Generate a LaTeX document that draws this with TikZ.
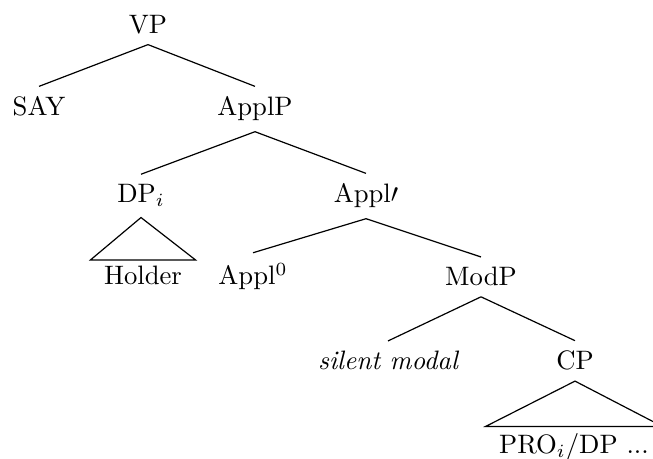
\documentclass[tikz,border=0pt]{standalone}
\begin{document}
\begin{tikzpicture}[x=0.375pt,y=-0.375pt,
  lbl/.style={anchor=base,inner xsep=4.9pt,inner ysep=3.75pt},
  leaf/.style={anchor=base,inner xsep=4.9pt,inner ysep=2.25pt},
  branch/.style={line width=0.45pt},
  roof/.style={line width=0.45pt,line join=miter}]
\useasboundingbox (0,0) rectangle (653,459);

% labels (positions are baselines)
\node[lbl]  (vp)     at (148,33.5) {VP};
\node[lbl]  (say)    at (39,116)   {SAY};
\node[lbl]  (applp)  at (255,116)  {ApplP};
\node[lbl]  (dp)     at (141,203)  {DP$_i$};
\node[lbl]  (applb)  at (366,203)  {Appl$\prime$};
\node[leaf] (holder) at (143,285)  {Holder};
\node[lbl]  (appl0)  at (253,285)  {Appl$^0$};
\node[lbl]  (modp)   at (481,286)  {ModP};
\node[lbl]  (sil)    at (388,370)  {\itshape silent modal};
\node[lbl]  (cp)     at (575,370)  {CP};
\node[leaf] (pro)    at (574,453)  {PRO$_i$/DP ...};

% branches
\draw[branch] (vp.south) -- (say.north);
\draw[branch] (vp.south) -- (applp.north);
\draw[branch] (applp.south) -- (dp.north);
\draw[branch] (applp.south) -- (applb.north);
\draw[branch] (applb.south) -- (appl0.north);
\draw[branch] (applb.south) -- (modp.north);
\draw[branch] (modp.south) -- (sil.north);
\draw[branch] (modp.south) -- (cp.north);

% roofs over unanalysed constituents
\draw[roof] (dp.south) -- (holder.north west) -- (holder.north east) -- cycle;
\draw[roof] (cp.south) -- (pro.north west) -- (pro.north east) -- cycle;
\end{tikzpicture}
\end{document}
